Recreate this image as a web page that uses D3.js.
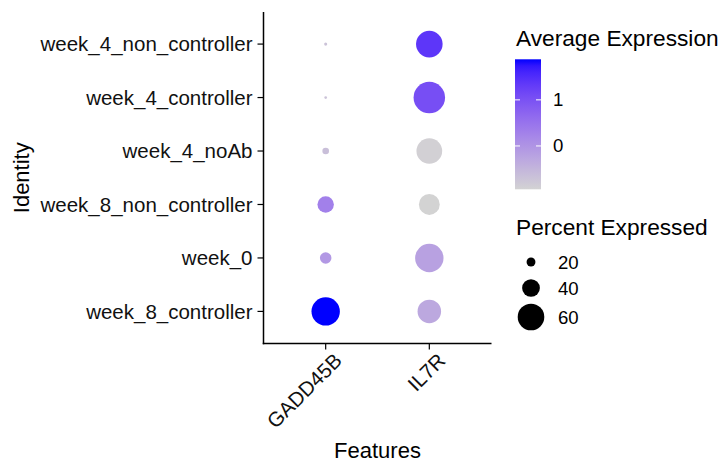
<!DOCTYPE html>
<html>
<head>
<meta charset="utf-8">
<script src="https://cdn.jsdelivr.net/npm/d3@7"></script>
<style>
  body { margin: 0; background: #fff; }
  text { font-family: "Liberation Sans", Arial, sans-serif; fill: #000; }
</style>
</head>
<body>
<svg id="chart" width="723" height="464"></svg>
<script>
// ---- data ----
const identities = ["week_4_non_controller", "week_4_controller", "week_4_noAb",
                    "week_8_non_controller", "week_0", "week_8_controller"];
const features = ["GADD45B", "IL7R"];
// percent expressed, by identity (same order as identities)
const pctGADD45B = [7, 6, 15, 37, 26, 64];
const pctIL7R    = [60, 71, 58, 47, 64, 53];
// scaled average expression
const avgGADD45B = [-0.70, -0.70, -0.65, 0.30, -0.05, 1.88];
const avgIL7R    = [1.38, 1.05, -0.90, -0.94, -0.20, -0.30];
const colorTicks = [0, 1];
const sizeTicks = [20, 40, 60];

const rows = [];
identities.forEach((id, i) => {
  rows.push({id, feature: "GADD45B", pct: pctGADD45B[i], avg: avgGADD45B[i]});
  rows.push({id, feature: "IL7R", pct: pctIL7R[i], avg: avgIL7R[i]});
});

const svg = d3.select("#chart");
const panel = {left: 263.5, right: 491.5, top: 12, bottom: 343.5};

// discrete scales with ggplot-like 0.6 expansion
const x = d3.scalePoint().domain(features).range([panel.left, panel.right]).padding(0.6);
const y = d3.scalePoint().domain(identities).range([panel.top, panel.bottom]).padding(0.6);

const allAvg = avgGADD45B.concat(avgIL7R);
const avgExtent = d3.extent(allAvg);
const interp = d3.interpolateLab("#D3D3D3", "#0000FF");
const color = d3.scaleLinear().domain(avgExtent).range([0, 1]);
const col = v => interp(color(v));

const r = d3.scaleLinear().domain([0, 60]).range([0, 13.3]);

// dots
svg.append("g").selectAll("circle").data(rows).join("circle")
  .attr("cx", d => x(d.feature))
  .attr("cy", d => y(d.id))
  .attr("r", d => r(d.pct))
  .attr("fill", d => col(d.avg));

// axes
const ax = svg.append("g");
ax.append("line").attr("x1", panel.left).attr("x2", panel.left)
  .attr("y1", panel.top).attr("y2", panel.bottom + 0.75)
  .attr("stroke", "#000").attr("stroke-width", 1.5);
ax.append("line").attr("x1", panel.left - 0.75).attr("x2", panel.right)
  .attr("y1", panel.bottom).attr("y2", panel.bottom)
  .attr("stroke", "#000").attr("stroke-width", 1.5);

// y ticks
identities.forEach(id => {
  ax.append("line").attr("x1", panel.left - 6).attr("x2", panel.left)
    .attr("y1", y(id)).attr("y2", y(id)).attr("stroke", "#000").attr("stroke-width", 1.2);
  ax.append("text").attr("x", panel.left - 11).attr("y", y(id))
    .attr("dy", "0.35em").attr("text-anchor", "end")
    .style("font-size", "20.5px").style("fill", "#111").text(id);
});
// x ticks
features.forEach(f => {
  ax.append("line").attr("x1", x(f)).attr("x2", x(f))
    .attr("y1", panel.bottom).attr("y2", panel.bottom + 6).attr("stroke", "#000").attr("stroke-width", 1.2);
  ax.append("text")
    .attr("transform", `translate(${x(f) + 7},${panel.bottom + 8}) rotate(-45)`)
    .attr("text-anchor", "end").attr("dy", "0.72em")
    .style("font-size", "20.5px").style("fill", "#111").text(f);
});

// axis titles
svg.append("text").attr("x", (panel.left + panel.right) / 2).attr("y", 458)
  .attr("text-anchor", "middle").style("font-size", "22px").text("Features");
svg.append("text").attr("transform", `translate(28.5,${(panel.top + panel.bottom) / 2}) rotate(-90)`)
  .attr("text-anchor", "middle").style("font-size", "22px").text("Identity");

// color legend
const lg = svg.append("g");
lg.append("text").attr("x", 516).attr("y", 46).style("font-size", "22.7px").text("Average Expression");
const barTop = 59.3, barBottom = 189.3, barX = 515, barW = 26;
const barY = d3.scaleLinear().domain(avgExtent).range([barBottom, barTop]);
const defs = svg.append("defs");
const grad = defs.append("linearGradient").attr("id", "cbar")
  .attr("x1", 0).attr("y1", 1).attr("x2", 0).attr("y2", 0);
d3.range(0, 1.0001, 0.05).forEach(t => {
  grad.append("stop").attr("offset", t).attr("stop-color", interp(t));
});
lg.append("rect").attr("x", barX).attr("y", barTop).attr("width", barW)
  .attr("height", barBottom - barTop).attr("fill", "url(#cbar)");
colorTicks.forEach(v => {
  const yy = barY(v);
  lg.append("line").attr("x1", barX).attr("x2", barX + 5).attr("y1", yy).attr("y2", yy)
    .attr("stroke", "#fff").attr("stroke-width", 1);
  lg.append("line").attr("x1", barX + barW - 5).attr("x2", barX + barW).attr("y1", yy).attr("y2", yy)
    .attr("stroke", "#fff").attr("stroke-width", 1);
  lg.append("text").attr("x", 553).attr("y", yy).attr("dy", "0.35em")
    .style("font-size", "18.6px").text(v);
});

// size legend
lg.append("text").attr("x", 516).attr("y", 235).style("font-size", "22.7px").text("Percent Expressed");
const sizeY = [262, 288, 317];
sizeTicks.forEach((v, i) => {
  lg.append("circle").attr("cx", 531).attr("cy", sizeY[i]).attr("r", r(v)).attr("fill", "#000");
  lg.append("text").attr("x", 558).attr("y", sizeY[i]).attr("dy", "0.35em")
    .style("font-size", "18.6px").text(v);
});
</script>
</body>
</html>
